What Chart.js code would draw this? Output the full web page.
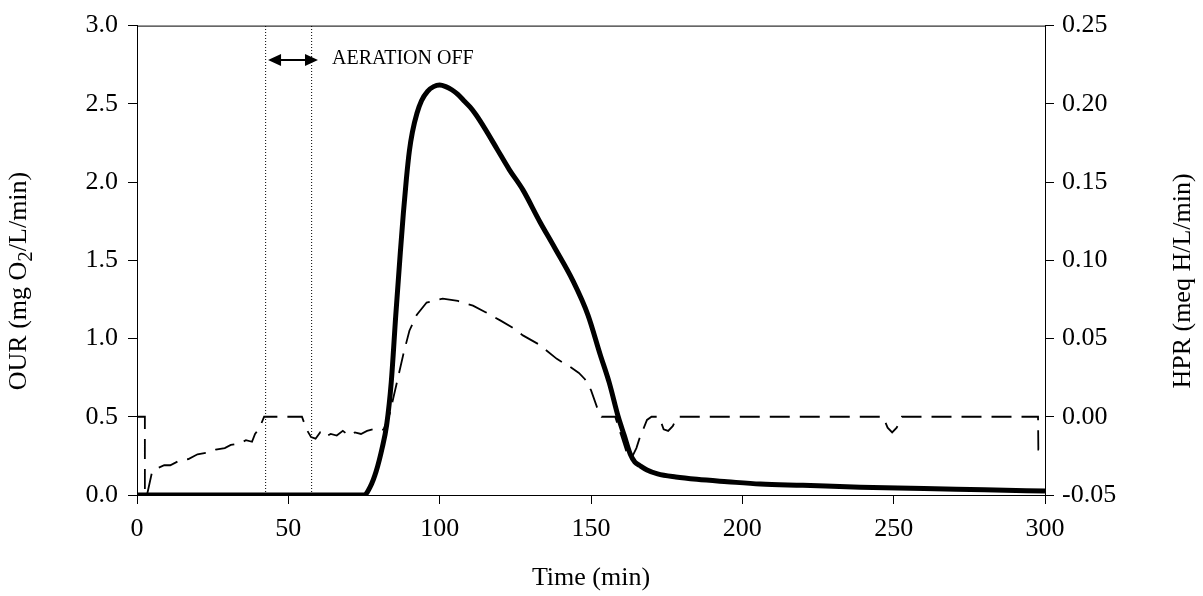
<!DOCTYPE html>
<html>
<head>
<meta charset="utf-8">
<script src="https://cdn.jsdelivr.net/npm/chart.js@4.4.1/dist/chart.umd.min.js"></script>
<style>
  html, body { margin: 0; padding: 0; background: #fff; }
  #wrap { position: relative; width: 1203px; height: 596px; }
</style>
</head>
<body>
<div id="wrap"><canvas id="chart" width="1203" height="596"></canvas></div>
<script>
// OUR (solid, left axis)
const ourTime = [0, 75, 77, 79, 81, 82.5, 84, 85.5, 87, 88, 89, 90, 91, 92.5, 94, 96, 98, 100, 102, 104, 106,
  108, 110, 112, 115, 119, 123, 127.5, 133, 138, 144, 149, 153, 156, 159, 161, 163, 164.5, 166, 168.5, 172,
  178, 185, 195, 206, 220, 239, 260, 280, 300];
const ourValues = [0, 0, 0.05, 0.15, 0.3, 0.45, 0.72, 1.15, 1.55, 1.8, 2.02, 2.2, 2.32, 2.44, 2.52, 2.58, 2.61,
  2.62, 2.61, 2.59, 2.56, 2.52, 2.48, 2.43, 2.34, 2.21, 2.08, 1.95, 1.75, 1.58, 1.37, 1.15, 0.9, 0.72, 0.5,
  0.38, 0.26, 0.21, 0.19, 0.16, 0.135, 0.115, 0.1, 0.085, 0.07, 0.062, 0.05, 0.042, 0.033, 0.025];

// HPR (dashed, right axis)
const hprTime = [0, 2.6, 2.6, 3.3, 5, 6.6, 9, 11, 14, 17, 20, 23, 26, 29, 31, 34, 36, 38, 39, 40.5, 42, 54.5,
  56, 57.5, 59, 60.5, 62, 64, 66, 68, 70, 72, 74, 76, 78, 80, 81.5, 83.5, 86, 88, 90, 92.4, 95.7, 101, 106,
  111, 115, 120, 124, 127.5, 133, 138.7, 143, 146, 148, 150, 152, 153.5, 158, 160, 162, 163.5, 165, 166,
  168.5, 170, 172.5, 174, 175.5, 177, 178.5, 246.5, 248, 249.5, 251, 252.7, 297.7, 297.8, 299.3];
const hprValues = [0, 0, -0.05, -0.05, -0.035, -0.033, -0.031, -0.031, -0.028, -0.027, -0.024, -0.023, -0.021,
  -0.02, -0.018, -0.017, -0.015, -0.016, -0.011, -0.007, 0, 0, -0.008, -0.013, -0.014, -0.01, -0.013, -0.011,
  -0.012, -0.009, -0.012, -0.01, -0.011, -0.009, -0.008, -0.009, -0.008, 0.002, 0.023, 0.04, 0.055, 0.065,
  0.073, 0.0755, 0.074, 0.071, 0.067, 0.0616, 0.057, 0.052, 0.046, 0.037, 0.032, 0.028, 0.024, 0.017, 0.006,
  0, 0, -0.012, -0.024, -0.026, -0.02, -0.014, -0.002, 0, 0, -0.008, -0.009, -0.006, 0, 0, -0.007, -0.01,
  -0.007, 0, 0, -0.021, -0.021];

// aeration off period
const aerationOff = [42.5, 57.7];
const arrowSpan = [43.3, 59.8];
const arrowLevel = 2.78;
const noteText = "AERATION OFF";

const xTicks = [0, 50, 100, 150, 200, 250, 300];
const ourTicks = [0, 0.5, 1.0, 1.5, 2.0, 2.5, 3.0];
const hprTicks = [-0.05, 0, 0.05, 0.10, 0.15, 0.20, 0.25];

const FONT = "'Liberation Serif', 'Times New Roman', serif";
const TICK_SIZE = 26;

const toPoints = (xs, ys) => xs.map((x, i) => ({ x: x, y: ys[i] }));

const framePlugin = {
  id: "frame",
  beforeDatasetsDraw(chart) {
    const { ctx, chartArea: a } = chart;
    ctx.save();
    ctx.strokeStyle = "#000";
    ctx.lineWidth = 1;
    ctx.strokeRect(a.left + 0.5, a.top + 0.5, a.right - a.left, a.bottom - a.top);
    ctx.restore();
  },
};

const notesPlugin = {
  id: "notes",
  afterDraw(chart) {
    const { ctx, chartArea: a, scales } = chart;
    ctx.save();
    ctx.fillStyle = "#000";
    ctx.strokeStyle = "#000";

    // double arrow
    const x1 = scales.x.getPixelForValue(arrowSpan[0]);
    const x2 = scales.x.getPixelForValue(arrowSpan[1]);
    const y = scales.y.getPixelForValue(arrowLevel);
    ctx.lineWidth = 2;
    ctx.beginPath();
    ctx.moveTo(x1 + 8, y);
    ctx.lineTo(x2 - 8, y);
    ctx.stroke();
    ctx.beginPath();
    ctx.moveTo(x1, y); ctx.lineTo(x1 + 13, y - 6); ctx.lineTo(x1 + 13, y + 6); ctx.closePath();
    ctx.moveTo(x2, y); ctx.lineTo(x2 - 13, y - 6); ctx.lineTo(x2 - 13, y + 6); ctx.closePath();
    ctx.fill();

    ctx.font = "20px " + FONT;
    ctx.textBaseline = "middle";
    ctx.textAlign = "left";
    ctx.fillText(noteText, x2 + 14, y - 1);

    // x title
    ctx.font = TICK_SIZE + "px " + FONT;
    ctx.textAlign = "center";
    ctx.fillText("Time (min)", (a.left + a.right) / 2, 578);

    // left title with subscript
    ctx.save();
    ctx.translate(19, 281);
    ctx.rotate(-Math.PI / 2);
    const p1 = "OUR (mg O", sub = "2", p2 = "/L/min)";
    ctx.font = TICK_SIZE + "px " + FONT;
    const w1 = ctx.measureText(p1).width;
    const w3 = ctx.measureText(p2).width;
    ctx.font = Math.round(TICK_SIZE * 0.8) + "px " + FONT;
    const w2 = ctx.measureText(sub).width;
    let sx = -(w1 + w2 + w3) / 2;
    ctx.textAlign = "left";
    ctx.font = TICK_SIZE + "px " + FONT;
    ctx.fillText(p1, sx, 0);
    sx += w1;
    ctx.font = Math.round(TICK_SIZE * 0.8) + "px " + FONT;
    ctx.fillText(sub, sx, 7);
    sx += w2;
    ctx.font = TICK_SIZE + "px " + FONT;
    ctx.fillText(p2, sx, 0);
    ctx.restore();

    // right title
    ctx.save();
    ctx.translate(1183, 281);
    ctx.rotate(-Math.PI / 2);
    ctx.textAlign = "center";
    ctx.fillText("HPR (meq H/L/min)", 0, 0);
    ctx.restore();

    ctx.restore();
  },
};

const tickFont = { family: FONT, size: TICK_SIZE };
const axisGrid = { drawOnChartArea: false, tickLength: 9, color: "#000", lineWidth: 1 };
const axisBorder = { color: "#000", width: 1 };

new Chart(document.getElementById("chart").getContext("2d"), {
  type: "line",
  data: {
    datasets: [
      {
        label: "OUR",
        data: toPoints(ourTime, ourValues),
        yAxisID: "y",
        borderColor: "#000",
        borderWidth: 5,
        pointRadius: 0,
        cubicInterpolationMode: "monotone",
        order: 0,
      },
      {
        label: "HPR",
        data: toPoints(hprTime, hprValues),
        yAxisID: "y2",
        borderColor: "#000",
        borderWidth: 1.8,
        borderDash: [20, 10],
        pointRadius: 0,
        order: 1,
      },
      {
        label: "off start",
        data: [{ x: aerationOff[0], y: ourTicks[0] }, { x: aerationOff[0], y: ourTicks[ourTicks.length - 1] }],
        yAxisID: "y",
        borderColor: "#000",
        borderWidth: 1,
        borderDash: [1, 2],
        pointRadius: 0,
        order: 2,
      },
      {
        label: "off end",
        data: [{ x: aerationOff[1], y: ourTicks[0] }, { x: aerationOff[1], y: ourTicks[ourTicks.length - 1] }],
        yAxisID: "y",
        borderColor: "#000",
        borderWidth: 1,
        borderDash: [1, 2],
        pointRadius: 0,
        order: 2,
      },
    ],
  },
  options: {
    responsive: false,
    animation: false,
    layout: { padding: { top: 18, left: 0, right: 0, bottom: 0 } },
    plugins: { legend: { display: false }, tooltip: { enabled: false } },
    scales: {
      x: {
        type: "linear",
        min: 0,
        max: 300,
        afterBuildTicks: (s) => { s.ticks = xTicks.map((v) => ({ value: v })); },
        afterFit: (s) => { s.height = 101; },
        ticks: { font: tickFont, color: "#000", padding: 10, maxRotation: 0 },
        grid: axisGrid,
        border: axisBorder,
      },
      y: {
        position: "left",
        min: 0,
        max: 3,
        afterBuildTicks: (s) => { s.ticks = ourTicks.map((v) => ({ value: v })); },
        afterFit: (s) => { s.width = 137; },
        ticks: { font: tickFont, color: "#000", padding: 10, callback: (v) => Number(v).toFixed(1) },
        grid: axisGrid,
        border: axisBorder,
      },
      y2: {
        position: "right",
        min: -0.05,
        max: 0.25,
        afterBuildTicks: (s) => { s.ticks = hprTicks.map((v) => ({ value: v })); },
        afterFit: (s) => { s.width = 158; },
        ticks: { font: tickFont, color: "#000", padding: 8, callback: (v) => Number(v).toFixed(2) },
        grid: axisGrid,
        border: axisBorder,
      },
    },
  },
  plugins: [framePlugin, notesPlugin],
});
</script>
</body>
</html>
